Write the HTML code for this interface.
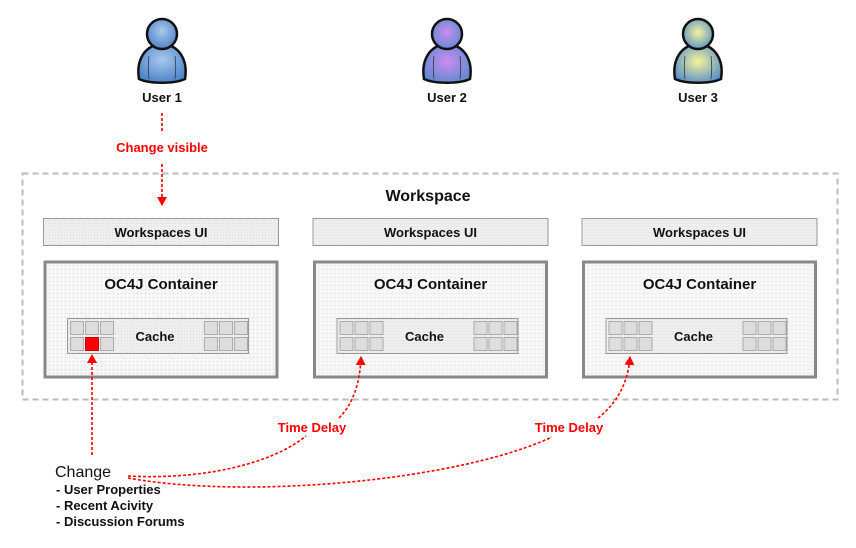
<!DOCTYPE html>
<html><head><meta charset="utf-8"><style>
html,body{margin:0;padding:0;background:#fff;}
svg{display:block;font-family:"Liberation Sans",Arial,sans-serif;font-weight:bold;}
</style></head><body>
<svg width="856" height="548" viewBox="0 0 856 548" xmlns="http://www.w3.org/2000/svg">
<defs>
<pattern id="dots" width="4" height="4" patternUnits="userSpaceOnUse">
<rect width="4" height="4" fill="#f7f7f7"/><rect x="1" y="1" width="1" height="1" fill="#d8d8d8"/>
</pattern>
<pattern id="dots2" width="3" height="3" patternUnits="userSpaceOnUse">
<rect width="3" height="3" fill="#eeeeee"/><rect x="1" y="1" width="1" height="1" fill="#dddddd"/>
</pattern>
<radialGradient id="g1" cx="0.5" cy="0.4" r="0.6"><stop offset="0" stop-color="#a9c8ee"/><stop offset="1" stop-color="#4f85c8"/></radialGradient>
<radialGradient id="g2" cx="0.5" cy="0.45" r="0.6"><stop offset="0" stop-color="#c98cf0"/><stop offset="1" stop-color="#5f8ad0"/></radialGradient>
<radialGradient id="g3" cx="0.5" cy="0.45" r="0.6"><stop offset="0" stop-color="#f4f49a"/><stop offset="1" stop-color="#5a8fc8"/></radialGradient>
<g id="usr">
<path d="M-23,40 C-26,22 -18,6 0,5 C18,6 26,22 23,40 C12,45 -12,45 -23,40 Z" stroke="#111" stroke-width="2.5"/>
<circle cx="0" cy="-5" r="15" stroke="#111" stroke-width="2.5"/>
<path d="M-13,17 C-14,25 -14,32 -13,40 M13,17 C14,25 14,32 13,40" stroke="#334" stroke-width="0.8" fill="none"/>
</g>
<marker id="ah" markerWidth="10" markerHeight="10" refX="8" refY="5" orient="auto" markerUnits="userSpaceOnUse">
<path d="M0,0 L9,5 L0,10 Z" fill="#f00"/></marker>
</defs>

<use href="#usr" x="162" y="39" fill="url(#g1)"/>
<use href="#usr" x="447" y="39" fill="url(#g2)"/>
<use href="#usr" x="698" y="39" fill="url(#g3)"/>
<g font-size="13" fill="#111" text-anchor="middle">
<text x="162" y="102">User 1</text>
<text x="447" y="102">User 2</text>
<text x="698" y="102">User 3</text>
</g>

<rect x="22.5" y="173.5" width="815" height="226" fill="none" stroke="#bbb" stroke-width="2" stroke-dasharray="6,4"/>
<text x="428" y="201" font-size="16" text-anchor="middle" fill="#111">Workspace</text>

<g id="col">
<rect x="43.5" y="218.5" width="235" height="27" fill="url(#dots2)" stroke="#999" stroke-width="1"/>
<text x="161" y="237" font-size="13" text-anchor="middle" fill="#111">Workspaces UI</text>
<rect x="45" y="262" width="232" height="115" fill="url(#dots)" stroke="#888" stroke-width="3"/>
<text x="161" y="289" font-size="15" text-anchor="middle" fill="#111">OC4J Container</text>
<rect x="67.5" y="318.5" width="181" height="35" fill="url(#dots2)" stroke="#999" stroke-width="1"/>
<text x="155" y="341" font-size="13" text-anchor="middle" fill="#111">Cache</text>
<g fill="#ddd" stroke="#aaa" stroke-width="1">
<rect x="70.5" y="321.5" width="13" height="13"/><rect x="85.5" y="321.5" width="13" height="13"/><rect x="100.5" y="321.5" width="13" height="13"/>
<rect x="70.5" y="337.5" width="13" height="13"/><rect x="85.5" y="337.5" width="13" height="13"/><rect x="100.5" y="337.5" width="13" height="13"/>
<rect x="204.5" y="321.5" width="13" height="13"/><rect x="219.5" y="321.5" width="13" height="13"/><rect x="234.5" y="321.5" width="13" height="13"/>
<rect x="204.5" y="337.5" width="13" height="13"/><rect x="219.5" y="337.5" width="13" height="13"/><rect x="234.5" y="337.5" width="13" height="13"/>
</g>
</g>
<use href="#col" x="269.5" y="0"/>
<use href="#col" x="538.5" y="0"/>
<rect x="85.5" y="337.5" width="13" height="13" fill="#f00" stroke="#c00"/>

<g stroke="#f00" stroke-width="1.6" fill="none" stroke-dasharray="3,2">
<line x1="162" y1="113" x2="162" y2="131"/>
<line x1="162" y1="164" x2="162" y2="205" marker-end="url(#ah)"/>
<line x1="92" y1="455" x2="92" y2="355" marker-end="url(#ah)"/>
<path d="M128,476 C200,480 270,465 306,436"/>
<path d="M339,418 C352,405 360,385 361,357" marker-end="url(#ah)"/>
<path d="M128,478 C250,500 460,480 552,437"/>
<path d="M598,418 C615,405 628,385 630,357" marker-end="url(#ah)"/>
</g>

<g font-size="13" fill="#f00" text-anchor="middle">
<text x="162" y="152">Change visible</text>
<text x="312" y="432">Time Delay</text>
<text x="569" y="432">Time Delay</text>
</g>

<g fill="#111">
<text x="55" y="477" font-size="16" style="font-weight:normal">Change</text>
<text x="56" y="494" font-size="13">- User Properties</text>
<text x="56" y="510" font-size="13">- Recent Acivity</text>
<text x="56" y="526" font-size="13">- Discussion Forums</text>
</g>
</svg>
</body></html>
